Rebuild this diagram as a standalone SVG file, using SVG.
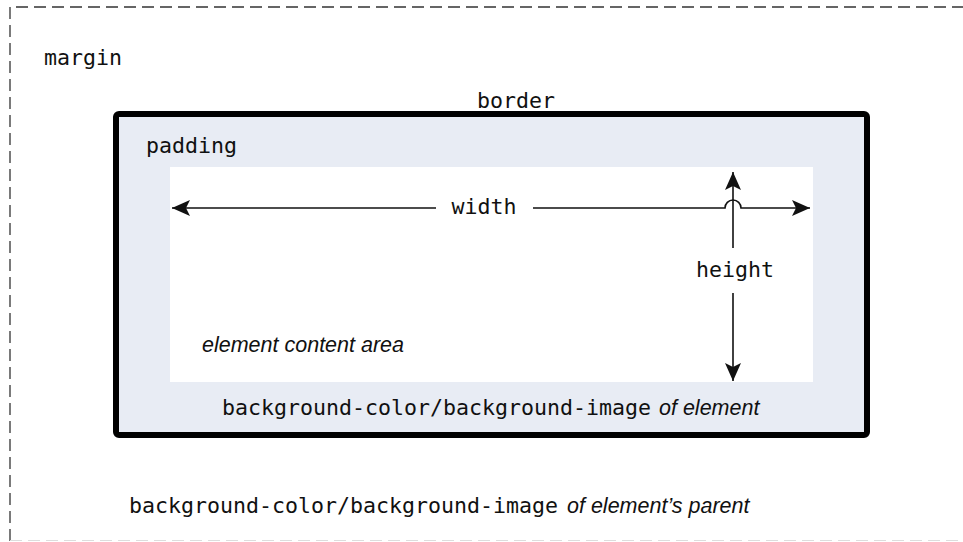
<svg xmlns="http://www.w3.org/2000/svg" width="963" height="542" viewBox="0 0 963 542">
<style>
.mono{font-family:"DejaVu Sans Mono","Liberation Mono",monospace;font-size:21.6px;fill:#111}
.ital{font-family:"Liberation Sans",Arial,sans-serif;font-style:italic;font-size:21.5px;fill:#111}
.conn{stroke:#111;stroke-width:1.6;fill:none}
</style>
<defs>
<marker id="ahL" viewBox="0 0 18 16" refX="18" refY="8" markerWidth="18" markerHeight="16" markerUnits="userSpaceOnUse" orient="auto">
<path d="M0,0 L18,8 L0,16 L4,8 z" fill="#111"/>
</marker>
</defs>
<rect width="963" height="542" fill="#fff"/>
<g id="margin">
<path d="M10,541 L10,7 L963,7" fill="none" stroke="#333" stroke-width="1.3" stroke-dasharray="12,6"/>
<path d="M10,540.5 L963,540.5" fill="none" stroke="#ddd" stroke-width="1" stroke-dasharray="12,6"/>
<text class="mono" x="44" y="65">margin</text>
<text x="129" y="513"><tspan class="mono">background-color/background-image</tspan><tspan class="ital" x="567">of element’s parent</tspan></text>
</g>
<g id="border">
<rect x="116" y="114" width="751" height="321" rx="3" fill="#E8ECF4" stroke="#000" stroke-width="6"/>
<text class="mono" x="516" y="108" text-anchor="middle">border</text>
</g>
<g id="padding">
<text class="mono" x="146" y="153">padding</text>
<text x="222" y="415"><tspan class="mono">background-color/background-image</tspan><tspan class="ital" x="659">of element</tspan></text>
</g>
<g id="content">
<rect x="170" y="167" width="643" height="215" fill="#fff"/>
<text class="ital" x="202" y="352">element content area</text>
</g>
<g id="connectors">
<path class="conn" d="M436,208 L172,208" marker-end="url(#ahL)"/>
<path class="conn" d="M533,208 L725,208 A8,8 0 0 1 741,208 L810,208" marker-end="url(#ahL)"/>
<path class="conn" d="M733,248 L733,172" marker-end="url(#ahL)"/>
<path class="conn" d="M733,293 L733,381" marker-end="url(#ahL)"/>
<text class="mono" x="484" y="214" text-anchor="middle">width</text>
<text class="mono" x="735" y="277" text-anchor="middle">height</text>
</g>
</svg>
